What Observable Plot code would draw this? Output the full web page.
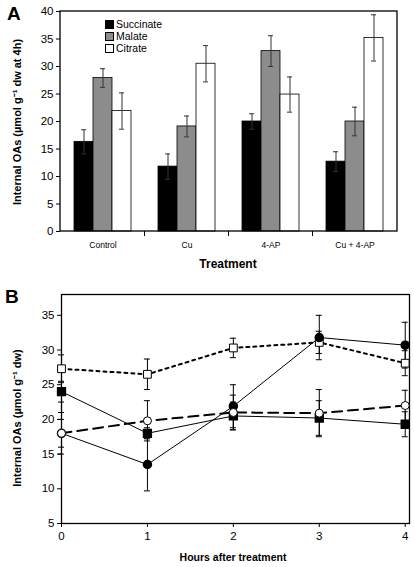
<!DOCTYPE html>
<html>
<head>
<meta charset="utf-8">
<script src="https://cdn.jsdelivr.net/npm/d3@7"></script>
<script src="https://cdn.jsdelivr.net/npm/@observablehq/plot@0.6"></script>
<style>
  html, body { margin: 0; padding: 0; background: #fff; }
  #wrap { position: relative; width: 414px; height: 567px; overflow: hidden; font-family: "Liberation Sans", Arial, sans-serif; color: #000; }
  .abs { position: absolute; white-space: nowrap; }
  .ylab { transform: translate(-50%, -50%) rotate(-90deg); font-weight: bold; font-size: 11px; }
  .xlab { transform: translate(-50%, -50%); font-weight: bold; }
  .panel { font-weight: bold; font-size: 19px; }
  .leg { font-size: 10.5px; display: flex; align-items: center; }
  .leg span.sw { display: inline-block; width: 7px; height: 7px; border: 0.8px solid #000; margin-right: 2px; }
  svg { overflow: visible; }
</style>
</head>
<body>
<div id="wrap"></div>
<script>
// ---------- Panel A data ----------
const treatments = ["Control", "Cu", "4-AP", "Cu + 4-AP"];
const acids = ["Succinate", "Malate", "Citrate"];
const succinate = [16.3, 11.8, 20.0, 12.7];
const succinateErr = [2.2, 2.3, 1.4, 1.8];
const malate = [27.9, 19.1, 32.8, 20.0];
const malateErr = [1.7, 1.9, 2.8, 2.6];
const citrate = [21.9, 30.5, 24.9, 35.2];
const citrateErr = [3.3, 3.3, 3.2, 4.2];
const yTicksA = [0, 5, 10, 15, 20, 25, 30, 35, 40];

// ---------- Panel B data ----------
const hours = [0, 1, 2, 3, 4];
const openSquare = [27.3, 26.5, 30.3, 31.1, 28.1];
const openSquareErr = [2.0, 2.2, 1.4, 1.6, 1.8];
const filledCircle = [18.0, 13.5, 21.9, 31.8, 30.7];
const filledCircleErr = [3.0, 3.8, 3.1, 3.2, 3.3];
const filledSquare = [24.0, 18.0, 20.5, 20.2, 19.3];
const filledSquareErr = [1.5, 0.8, 2.0, 2.5, 1.8];
const openCircle = [18.0, 19.8, 21.0, 20.9, 22.0];
const openCircleErr = [2.0, 2.9, 2.5, 3.4, 2.2];
const yTicksB = [5, 10, 15, 20, 25, 30, 35];
const xTicksB = [0, 1, 2, 3, 4];

const wrap = document.getElementById("wrap");
const FONT = "'Liberation Sans', Arial, sans-serif";

// ---------- Panel A ----------
const acidVals = [succinate, malate, citrate];
const acidErrs = [succinateErr, malateErr, citrateErr];
const barsA = [];
treatments.forEach((t, i) => acids.forEach((a, j) => {
  const v = acidVals[j][i], e = acidErrs[j][i];
  barsA.push({treatment: t, acid: a, value: v, lo: v - e, hi: v + e});
}));

const WA = 414, HA = 271, mlA = 60, mrA = 17, mtA = 11, mbA = 40;
const chartA = Plot.plot({
  width: WA, height: HA, marginLeft: mlA, marginRight: mrA, marginTop: mtA, marginBottom: mbA,
  style: {fontFamily: FONT, fontSize: "11.5px", color: "#000", background: "transparent", overflow: "visible"},
  fx: {domain: treatments, paddingInner: 0.323, paddingOuter: 0.1615, label: null, axis: "bottom", tickSize: 0, tickPadding: 10},
  x: {domain: acids, padding: 0, axis: null},
  y: {domain: [0, 40], ticks: yTicksA, tickSize: 4, tickPadding: 3, label: null},
  color: {domain: acids, range: ["#000000", "#8c8c8c", "#ffffff"]},
  marks: [
    Plot.barY(barsA, {fx: "treatment", x: "acid", y: "value", fill: "acid", stroke: "#000", strokeWidth: 0.8}),
    Plot.ruleX(barsA, {fx: "treatment", x: "acid", y1: "lo", y2: "hi", stroke: "#333", strokeWidth: 1}),
    Plot.tickY(barsA, {fx: "treatment", x: "acid", y: "hi", inset: 7, stroke: "#333", strokeWidth: 1}),
    Plot.tickY(barsA, {fx: "treatment", x: "acid", y: "lo", inset: 7, stroke: "#333", strokeWidth: 1})
  ]
});
chartA.style.position = "absolute";
chartA.style.left = "0px";
chartA.style.top = "0px";
wrap.appendChild(chartA);
d3.select(chartA).selectAll('[aria-label^="fx-axis"] text').style("font-size", "8.5px");

// frame + category separator ticks, from the scales; move facet y-axis to the frame edge
{
  const ys = chartA.scale("y");
  const yTop = Math.min(...ys.range), yBot = Math.max(...ys.range);
  const svg = d3.select(chartA);
  const fx = chartA.scale("fx");
  const step = fx.step != null ? fx.step : (WA - mlA - mrA) / (treatments.length - 0.323 + 2 * 0.1615);
  const bw = fx.bandwidth != null ? fx.bandwidth : step * (1 - 0.323);
  const firstLeft = fx.apply(treatments[0]);
  const shift = mlA - firstLeft;
  svg.selectAll('[aria-label^="y-axis"]').each(function () {
    const g = d3.select(this);
    const prev = g.attr("transform") || "";
    g.attr("transform", `translate(${shift},0) ${prev}`);
  });
  svg.append("rect").attr("x", mlA).attr("y", yTop).attr("width", WA - mlA - mrA).attr("height", yBot - yTop)
    .attr("fill", "none").attr("stroke", "#000").attr("stroke-width", 1.3);
  for (let i = 1; i < treatments.length; i++) {
    const x = fx.apply(treatments[i]) - (step - bw) / 2;
    svg.append("line").attr("x1", x).attr("x2", x).attr("y1", yBot).attr("y2", yBot + 5)
      .attr("stroke", "#000").attr("stroke-width", 1);
  }
}

// ---------- Panel B ----------
const seriesB = [
  {name: "open squares", vals: openSquare, errs: openSquareErr},
  {name: "filled circles", vals: filledCircle, errs: filledCircleErr},
  {name: "filled squares", vals: filledSquare, errs: filledSquareErr},
  {name: "open circles", vals: openCircle, errs: openCircleErr}
];
const rowsB = {};
seriesB.forEach(s => {
  rowsB[s.name] = hours.map((h, i) => ({series: s.name, hour: h, value: s.vals[i], lo: s.vals[i] - s.errs[i], hi: s.vals[i] + s.errs[i]}));
});
const allB = Object.values(rowsB).flat();
const capHalf = 0.035;

const styleB = {
  "open squares": {line: {stroke: "#000", strokeWidth: 2, strokeDasharray: "3,4"}, dot: {symbol: "square", r: 4.4, fill: "#fff", stroke: "#000", strokeWidth: 1}},
  "filled circles": {line: {stroke: "#000", strokeWidth: 1}, dot: {symbol: "circle", r: 4, fill: "#000", stroke: "#000"}},
  "filled squares": {line: {stroke: "#000", strokeWidth: 1}, dot: {symbol: "square", r: 4.4, fill: "#000", stroke: "#000"}},
  "open circles": {line: {stroke: "#000", strokeWidth: 2, strokeDasharray: "10,6"}, dot: {symbol: "circle", r: 4, fill: "#fff", stroke: "#000", strokeWidth: 1}}
};

const WB = 414, HB = 292, mlB = 61, mrB = 5, mtB = 19, mbB = 44;
const chartB = Plot.plot({
  width: WB, height: HB, marginLeft: mlB, marginRight: mrB, marginTop: mtB, marginBottom: mbB,
  style: {fontFamily: FONT, fontSize: "11.5px", color: "#000", background: "transparent", overflow: "visible"},
  x: {domain: [0, 4.05], ticks: xTicksB, tickFormat: d3.format("d"), tickSize: 4, tickPadding: 4, label: null},
  y: {domain: [5, 38], ticks: yTicksB, tickSize: 4, tickPadding: 3, label: null},
  marks: [
    Plot.frame({stroke: "#000", strokeWidth: 1.3}),
    Plot.ruleX(allB, {x: "hour", y1: "lo", y2: "hi", stroke: "#000", strokeWidth: 1}),
    Plot.ruleY(allB, {y: "hi", x1: d => d.hour - capHalf, x2: d => d.hour + capHalf, stroke: "#000", strokeWidth: 1}),
    Plot.ruleY(allB, {y: "lo", x1: d => d.hour - capHalf, x2: d => d.hour + capHalf, stroke: "#000", strokeWidth: 1}),
    ...seriesB.map(s => Plot.line(rowsB[s.name], {x: "hour", y: "value", ...styleB[s.name].line})),
    ...seriesB.map(s => Plot.dot(rowsB[s.name], {x: "hour", y: "value", ...styleB[s.name].dot}))
  ]
});
chartB.style.position = "absolute";
chartB.style.left = "0px";
chartB.style.top = "275px";
wrap.appendChild(chartB);

// ---------- Text overlays ----------
function addDiv(cls, text, left, top, extra) {
  const d = document.createElement("div");
  d.className = "abs " + cls;
  d.textContent = text;
  d.style.left = left + "px";
  d.style.top = top + "px";
  if (extra) Object.assign(d.style, extra);
  wrap.appendChild(d);
  return d;
}
addDiv("panel", "A", 7, 3);
addDiv("panel", "B", 5, 286);
addDiv("ylab", "Internal OAs (\u00b5mol g\u207b\u00b9 dw at 4h)", 16, 122);
addDiv("xlab", "Treatment", 228, 264, {fontSize: "12px"});
addDiv("ylab", "Internal OAs (\u00b5mol g\u207b\u00b9 dw)", 16, 418);
addDiv("xlab", "Hours after treatment", 233, 557, {fontSize: "10.5px"});

// legend (panel A)
const legColors = ["#000000", "#8c8c8c", "#ffffff"];
acids.forEach((a, i) => {
  const d = document.createElement("div");
  d.className = "abs leg";
  d.style.left = "105px";
  d.style.top = (18 + i * 12) + "px";
  const sw = document.createElement("span");
  sw.className = "sw";
  sw.style.background = legColors[i];
  d.appendChild(sw);
  d.appendChild(document.createTextNode(a));
  wrap.appendChild(d);
});
</script>
</body>
</html>
